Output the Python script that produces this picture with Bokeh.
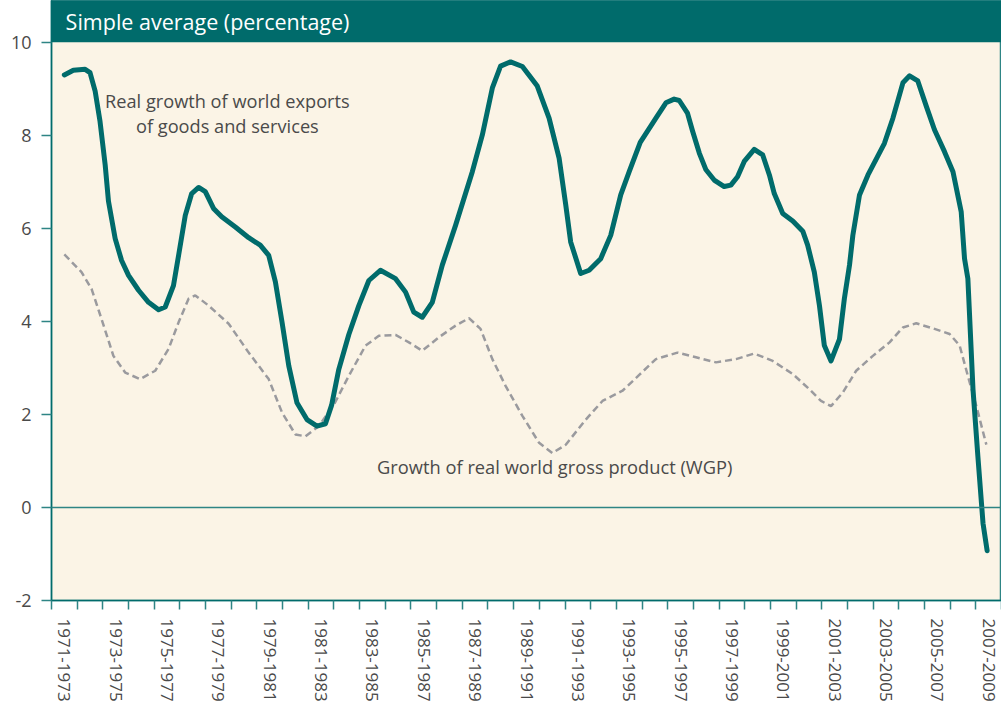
from bokeh.plotting import figure
from bokeh.models import Range1d, FixedTicker, Span, Label
from bokeh.embed import file_html
from bokeh.resources import INLINE

# ---------------- data ----------------
# x = mid-year of the 3-year period (1972 -> "1971-1973")
exports_x = [1972.00, 1972.35, 1972.81, 1973.00, 1973.20, 1973.39, 1973.59, 1973.72,
             1973.98, 1974.23, 1974.50, 1974.89, 1975.28, 1975.67, 1975.93, 1976.25,
             1976.45, 1976.71, 1976.96, 1977.23, 1977.49, 1977.81, 1978.13, 1978.66,
             1979.18, 1979.63, 1979.96, 1980.22, 1980.48, 1980.74, 1981.06, 1981.45,
             1981.84, 1982.17, 1982.41, 1982.69, 1983.08, 1983.47, 1983.86, 1984.31,
             1984.90, 1985.29, 1985.61, 1985.94, 1986.33, 1986.72, 1987.24, 1987.89,
             1988.28, 1988.67, 1988.99, 1989.38, 1989.84, 1990.42, 1990.88, 1991.27,
             1991.53, 1991.72, 1992.11, 1992.44, 1992.89, 1993.28, 1993.67, 1994.00,
             1994.43, 1995.04, 1995.43, 1995.75, 1995.95, 1996.27, 1996.47, 1996.73,
             1996.99, 1997.31, 1997.70, 1997.96, 1998.22, 1998.48, 1998.87, 1999.20,
             1999.46, 1999.65, 1999.98, 2000.37, 2000.76, 2000.95, 2001.21, 2001.41,
             2001.60, 2001.86, 2002.19, 2002.38, 2002.58, 2002.71, 2002.97, 2003.30,
             2003.94, 2004.27, 2004.66, 2004.92, 2005.24, 2005.57, 2005.89, 2006.28,
             2006.61, 2006.93, 2007.06, 2007.19, 2007.39, 2007.58, 2007.78, 2007.94]
exports_y = [9.30, 9.40, 9.42, 9.35, 8.95, 8.30, 7.37, 6.58,
             5.78, 5.31, 4.99, 4.67, 4.41, 4.25, 4.31, 4.77,
             5.42, 6.28, 6.75, 6.88, 6.79, 6.43, 6.25, 6.03,
             5.80, 5.64, 5.42, 4.85, 3.98, 3.05, 2.25, 1.89,
             1.75, 1.80, 2.20, 2.97, 3.72, 4.34, 4.88, 5.10,
             4.92, 4.63, 4.20, 4.09, 4.41, 5.21, 6.07, 7.22,
             8.01, 9.02, 9.49, 9.58, 9.48, 9.06, 8.37, 7.51,
             6.50, 5.71, 5.03, 5.10, 5.35, 5.85, 6.72, 7.22,
             7.85, 8.37, 8.70, 8.78, 8.75, 8.48, 8.09, 7.62,
             7.26, 7.04, 6.90, 6.93, 7.11, 7.44, 7.70, 7.58,
             7.15, 6.75, 6.32, 6.16, 5.94, 5.64, 5.06, 4.34,
             3.48, 3.15, 3.62, 4.49, 5.21, 5.85, 6.72, 7.15,
             7.83, 8.37, 9.13, 9.28, 9.17, 8.63, 8.12, 7.65,
             7.22, 6.36, 5.35, 4.92, 2.54, 1.10, -0.34, -0.93]

wgp_x = [1972.00, 1972.67, 1973.06, 1973.45, 1973.91, 1974.37, 1974.95, 1975.54,
         1976.06, 1976.45, 1976.84, 1977.10, 1977.62, 1978.40, 1979.18, 1979.96,
         1980.48, 1981.00, 1981.39, 1981.91, 1982.49, 1983.08, 1983.73, 1984.25,
         1984.90, 1985.42, 1985.94, 1986.59, 1987.24, 1987.76, 1988.21, 1988.67,
         1989.19, 1989.84, 1990.49, 1991.01, 1991.53, 1992.31, 1992.96, 1993.74,
         1994.39, 1995.04, 1995.88, 1996.60, 1997.38, 1998.16, 1998.87, 1999.59,
         2000.37, 2001.02, 2001.47, 2001.86, 2002.32, 2002.84, 2003.49, 2004.14,
         2004.66, 2005.18, 2005.83, 2006.48, 2006.87, 2007.19, 2007.52, 2007.91]
wgp_y = [5.44, 5.06, 4.70, 4.05, 3.26, 2.90, 2.76, 2.94,
         3.41, 3.98, 4.49, 4.56, 4.34, 3.95, 3.33, 2.76,
         2.04, 1.57, 1.53, 1.75, 2.20, 2.83, 3.48, 3.69,
         3.71, 3.55, 3.37, 3.66, 3.91, 4.07, 3.84, 3.19,
         2.61, 1.97, 1.39, 1.17, 1.35, 1.89, 2.29, 2.51,
         2.85, 3.19, 3.33, 3.23, 3.12, 3.19, 3.31, 3.15,
         2.87, 2.54, 2.29, 2.18, 2.47, 2.94, 3.26, 3.55,
         3.87, 3.96, 3.85, 3.73, 3.48, 2.83, 2.18, 1.35]

period_centers = [1972, 1974, 1976, 1978, 1980, 1982, 1984, 1986, 1988, 1990,
                  1992, 1994, 1996, 1998, 2000, 2002, 2004, 2006, 2008]
period_labels = ["1971-1973", "1973-1975", "1975-1977", "1977-1979", "1979-1981",
                 "1981-1983", "1983-1985", "1985-1987", "1987-1989", "1989-1991",
                 "1991-1993", "1993-1995", "1995-1997", "1997-1999", "1999-2001",
                 "2001-2003", "2003-2005", "2005-2007", "2007-2009"]
y_ticks = [-2, 0, 2, 4, 6, 8, 10]
y_tick_labels = ["-2", "0", "2", "4", "6", "8", "10"]

title_text = "Simple average (percentage)"
exports_label = ["Real growth of world exports", "of goods and services"]
wgp_label = "Growth of real world gross product (WGP)"

# ---------------- styling ----------------
TEAL = "#006b6b"
TEAL_LIGHT = "#2e8585"
CREAM = "#fbf4e6"
GREY = "#9a9a9e"
TEXT = "#4a4a4a"
FONT = "Open Sans"

x_start, x_end = 1971.5, 2008.5
y_start, y_end = -2, 10.9

p = figure(width=1001, height=707,
           x_range=Range1d(x_start, x_end), y_range=Range1d(y_start, y_end),
           output_backend="svg", toolbar_location=None,
           min_border_left=51, min_border_right=0, min_border_top=0,
           min_border_bottom=107,
           background_fill_color=CREAM, border_fill_color="white")
p.outline_line_color = TEAL_LIGHT
p.outline_line_width = 1.5
p.grid.visible = False

# title bar
p.quad(left=[x_start], right=[x_end], bottom=[max(y_ticks)], top=[y_end],
       fill_color=TEAL, line_color=None)
p.add_layout(Label(x=x_start + 0.55, y=(max(y_ticks) + y_end) / 2, text=title_text,
                   text_color="white", text_font=FONT, text_font_size="21.5px",
                   text_baseline="middle", text_align="left"))

# zero line
p.add_layout(Span(location=0, dimension="width", line_color=TEAL_LIGHT, line_width=1.5))

# series
p.line(wgp_x, wgp_y, line_color=GREY, line_width=2.5, line_dash="7 4")
p.line(exports_x, exports_y, line_color=TEAL, line_width=5,
       line_cap="round", line_join="round")

# annotations
p.add_layout(Label(x=1978.35, y=8.75, text=exports_label[0], text_color=TEXT,
                   text_font=FONT, text_font_size="18.2px", text_align="center",
                   text_baseline="middle"))
p.add_layout(Label(x=1978.35, y=8.20, text=exports_label[1], text_color=TEXT,
                   text_font=FONT, text_font_size="18.2px", text_align="center",
                   text_baseline="middle"))
p.add_layout(Label(x=1991.1, y=0.88, text=wgp_label, text_color=TEXT,
                   text_font=FONT, text_font_size="18.3px", text_align="center",
                   text_baseline="middle"))

# axes
xa = p.xaxis[0]
xa.ticker = FixedTicker(ticks=period_centers,
                        minor_ticks=[x_start + k for k in range(int(x_end - x_start) + 1)])
xa.major_label_overrides = {c: l for c, l in zip(period_centers, period_labels)}
xa.major_label_orientation = "vertical"
xa.major_tick_out = 0
xa.major_tick_in = 0
xa.minor_tick_out = 9
xa.minor_tick_in = 0
xa.minor_tick_line_color = TEAL_LIGHT
xa.minor_tick_line_width = 1.5
xa.axis_line_color = TEAL
xa.axis_line_width = 1.5
xa.major_label_standoff = 9
xa.major_label_text_font = FONT
xa.major_label_text_font_size = "17px"
xa.major_label_text_color = TEXT

ya = p.yaxis[0]
ya.ticker = FixedTicker(ticks=y_ticks)
ya.major_label_overrides = {t: l for t, l in zip(y_ticks, y_tick_labels)}
ya.major_tick_out = 10
ya.major_tick_in = 0
ya.minor_tick_out = 0
ya.minor_tick_in = 0
ya.major_tick_line_color = TEAL_LIGHT
ya.major_tick_line_width = 1.5
ya.axis_line_color = TEAL
ya.axis_line_width = 1.5
ya.major_label_standoff = 10
ya.major_label_text_font = FONT
ya.major_label_text_font_size = "18px"
ya.major_label_text_color = TEXT

open("out.html", "w").write(file_html(p, INLINE))
